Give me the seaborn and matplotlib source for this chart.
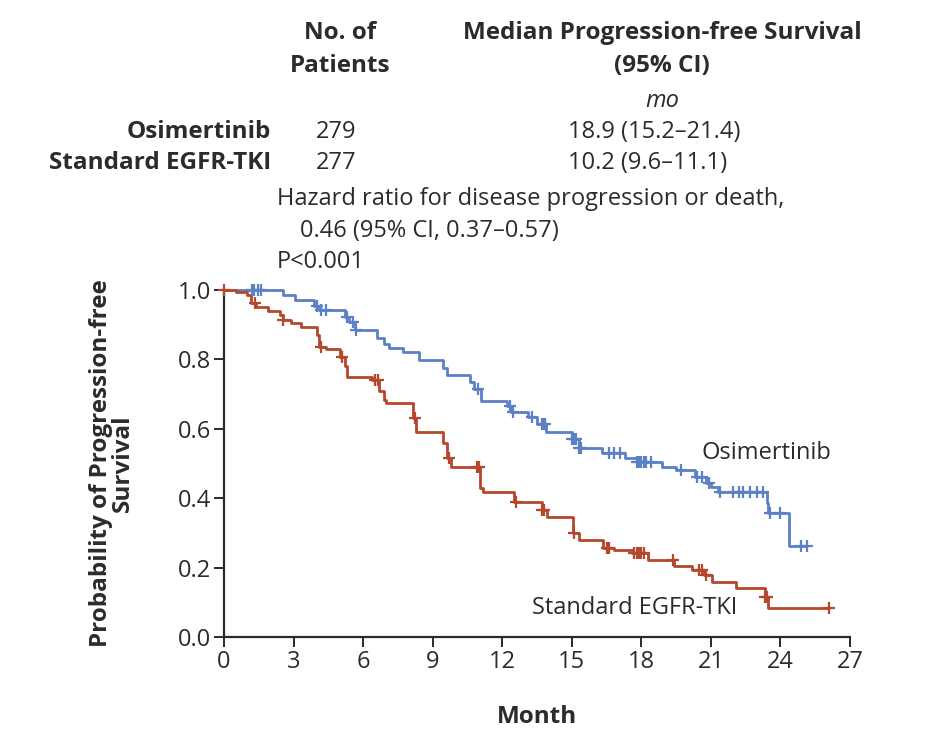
import numpy as np
import pandas as pd
import matplotlib
matplotlib.use("Agg")
import matplotlib.pyplot as plt
import seaborn as sns

# ---- data ----
osi_times = [0, 2.55, 3.05, 3.9, 4.1, 5.2, 5.4, 5.65, 6.6, 6.9, 7.1, 7.7, 8.4, 9.45, 9.6,
             10.6, 10.8, 11.1, 12.2, 12.4, 13.1, 13.5, 13.9, 15.0, 15.3, 16.3, 17.3, 17.8,
             18.9, 19.5, 20.3, 20.8, 21.0, 21.3, 23.4, 23.45, 24.35]
osi_surv = [1.0, 0.985, 0.971, 0.955, 0.942, 0.922, 0.908, 0.885, 0.862, 0.845, 0.833, 0.821,
            0.798, 0.776, 0.755, 0.735, 0.715, 0.681, 0.665, 0.648, 0.634, 0.615, 0.591, 0.57,
            0.545, 0.53, 0.516, 0.504, 0.49, 0.481, 0.461, 0.445, 0.432, 0.418, 0.386, 0.357,
            0.262]
osi_end = 25.15
osi_censor = [1.2, 1.3, 1.45, 1.6, 4.0, 4.2, 4.4, 5.3, 5.55, 5.7, 10.95, 12.35, 12.45, 13.3,
              13.7, 13.75, 13.85, 15.0, 15.1, 15.2, 15.3, 15.4, 16.6, 16.8, 17.1, 17.8, 17.9,
              18.0, 18.1, 18.2, 18.4, 19.7, 20.4, 20.6, 20.9, 21.4, 21.95, 22.2, 22.4, 22.7,
              23.0, 23.25, 23.55, 24.0, 24.9, 25.15]

std_times = [0, 0.5, 1.0, 1.15, 1.4, 1.9, 2.4, 2.55, 2.9, 3.3, 4.0, 4.1, 4.4, 5.0, 5.2, 5.3,
             6.4, 6.7, 6.9, 7.0, 8.15, 8.3, 9.45, 9.6, 9.8, 11.05, 11.15, 12.5, 13.7, 13.95,
             15.05, 15.3, 16.35, 16.8, 17.6, 18.3, 19.4, 20.2, 20.7, 21.05, 22.1, 23.35, 23.45]
std_surv = [1.0, 0.994, 0.985, 0.963, 0.951, 0.94, 0.928, 0.914, 0.905, 0.893, 0.87, 0.836,
            0.83, 0.807, 0.78, 0.749, 0.74, 0.71, 0.683, 0.674, 0.63, 0.591, 0.56, 0.516, 0.49,
            0.43, 0.418, 0.389, 0.365, 0.346, 0.3, 0.28, 0.256, 0.25, 0.242, 0.222, 0.205,
            0.193, 0.179, 0.159, 0.141, 0.115, 0.084]
std_end = 26.1
std_censor = [0.0, 1.35, 2.55, 4.2, 5.1, 6.5, 6.65, 8.25, 9.7, 10.9, 11.0, 12.6, 13.7, 13.8,
              15.1, 16.5, 16.6, 17.7, 17.8, 17.9, 18.0, 18.1, 19.35, 20.5, 20.6, 20.8, 23.35,
              23.4, 26.1]

groups = ["Osimertinib", "Standard EGFR-TKI"]
n_patients = ["279", "277"]
medians = ["18.9 (15.2\u201321.4)", "10.2 (9.6\u201311.1)"]
x_ticks = [0, 3, 6, 9, 12, 15, 18, 21, 24, 27]
y_ticks = [0.0, 0.2, 0.4, 0.6, 0.8, 1.0]

colors = {"Osimertinib": "#5b80c6", "Standard EGFR-TKI": "#b5472c"}

def step_frame(times, surv, end, name):
    t = list(times) + [end]
    s = list(surv) + [surv[-1]]
    return pd.DataFrame({"Month": t, "Survival": s, "Group": name})

def censor_frame(times, surv, ctimes, name):
    idx = np.searchsorted(np.array(times), np.array(ctimes), side="right") - 1
    return pd.DataFrame({"Month": ctimes, "Survival": np.array(surv)[idx], "Group": name})

steps = pd.concat([step_frame(osi_times, osi_surv, osi_end, groups[0]),
                   step_frame(std_times, std_surv, std_end, groups[1])])
cens = pd.concat([censor_frame(osi_times, osi_surv, osi_censor, groups[0]),
                  censor_frame(std_times, std_surv, std_censor, groups[1])])

sns.set_style("ticks")
plt.rcParams["font.family"] = ["Open Sans", "DejaVu Sans"]

fig = plt.figure(figsize=(9.29, 7.37), dpi=100)
ax = fig.add_axes([224 / 929, 1 - 637 / 737, (850 - 224) / 929, (637 - 290) / 737])

for g in groups:
    d = steps[steps.Group == g]
    sns.lineplot(data=d, x="Month", y="Survival", ax=ax, color=colors[g],
                 drawstyle="steps-post", linewidth=2.0, estimator=None, sort=False,
                 clip_on=False, legend=False)
    c = cens[cens.Group == g]
    sns.scatterplot(data=c, x="Month", y="Survival", ax=ax, color=colors[g], marker="+",
                    s=75, linewidth=1.6, clip_on=False, legend=False, zorder=3)

dark = "#2b2b2b"
REG = 17
BOLD = 17.5
ax.set_xlim(0, 27)
ax.set_ylim(0, 1)
ax.set_xticks(x_ticks)
ax.set_yticks(y_ticks)
ax.set_xticklabels([str(v) for v in x_ticks])
ax.set_yticklabels([f"{v:.1f}" for v in y_ticks])
for side in ["top", "right"]:
    ax.spines[side].set_visible(False)
for side in ["left", "bottom"]:
    ax.spines[side].set_linewidth(1.6)
    ax.spines[side].set_color(dark)
ax.tick_params(axis="both", direction="out", length=7, width=1.4, color=dark,
               labelsize=REG, labelcolor=dark, pad=2)
ax.set_xlabel("Month", fontsize=BOLD, fontweight="bold", color=dark, labelpad=23)
ax.set_ylabel("Probability of Progression-free\nSurvival", fontsize=BOLD, fontweight="bold",
              color=dark, labelpad=31, linespacing=0.9)

ax.text(20.6, 0.53, "Osimertinib", fontsize=REG, color=dark, ha="left", va="center")
ax.text(13.3, 0.085, "Standard EGFR-TKI", fontsize=REG, color=dark, ha="left", va="center")

def px(x, y):
    return x / 929, 1 - y / 737

hdr = dict(fontsize=BOLD, fontweight="bold", color=dark, ha="center", va="center")
fig.text(*px(340, 33), "No. of", **hdr)
fig.text(*px(340, 66), "Patients", **hdr)
fig.text(*px(662, 33), "Median Progression-free Survival", **hdr)
fig.text(*px(662, 66), "(95% CI)", **hdr)
fig.text(*px(662, 101), "mo", fontsize=REG, style="italic", color=dark, ha="center", va="center")

rows_y = [132, 163]
for g, n, m, yy in zip(groups, n_patients, medians, rows_y):
    fig.text(*px(271, yy), g, fontsize=BOLD, fontweight="bold", color=dark, ha="right", va="center")
    fig.text(*px(316, yy), n, fontsize=REG, color=dark, ha="left", va="center")
    fig.text(*px(568, yy), m, fontsize=REG, color=dark, ha="left", va="center")

fig.text(*px(277, 199), "Hazard ratio for disease progression or death,", fontsize=REG,
         color=dark, ha="left", va="center")
fig.text(*px(300, 231), "0.46 (95% CI, 0.37\u20130.57)", fontsize=REG, color=dark,
         ha="left", va="center")
fig.text(*px(277, 262), "P<0.001", fontsize=REG, color=dark, ha="left", va="center")

fig.savefig("out.png", dpi=100, facecolor="white")
